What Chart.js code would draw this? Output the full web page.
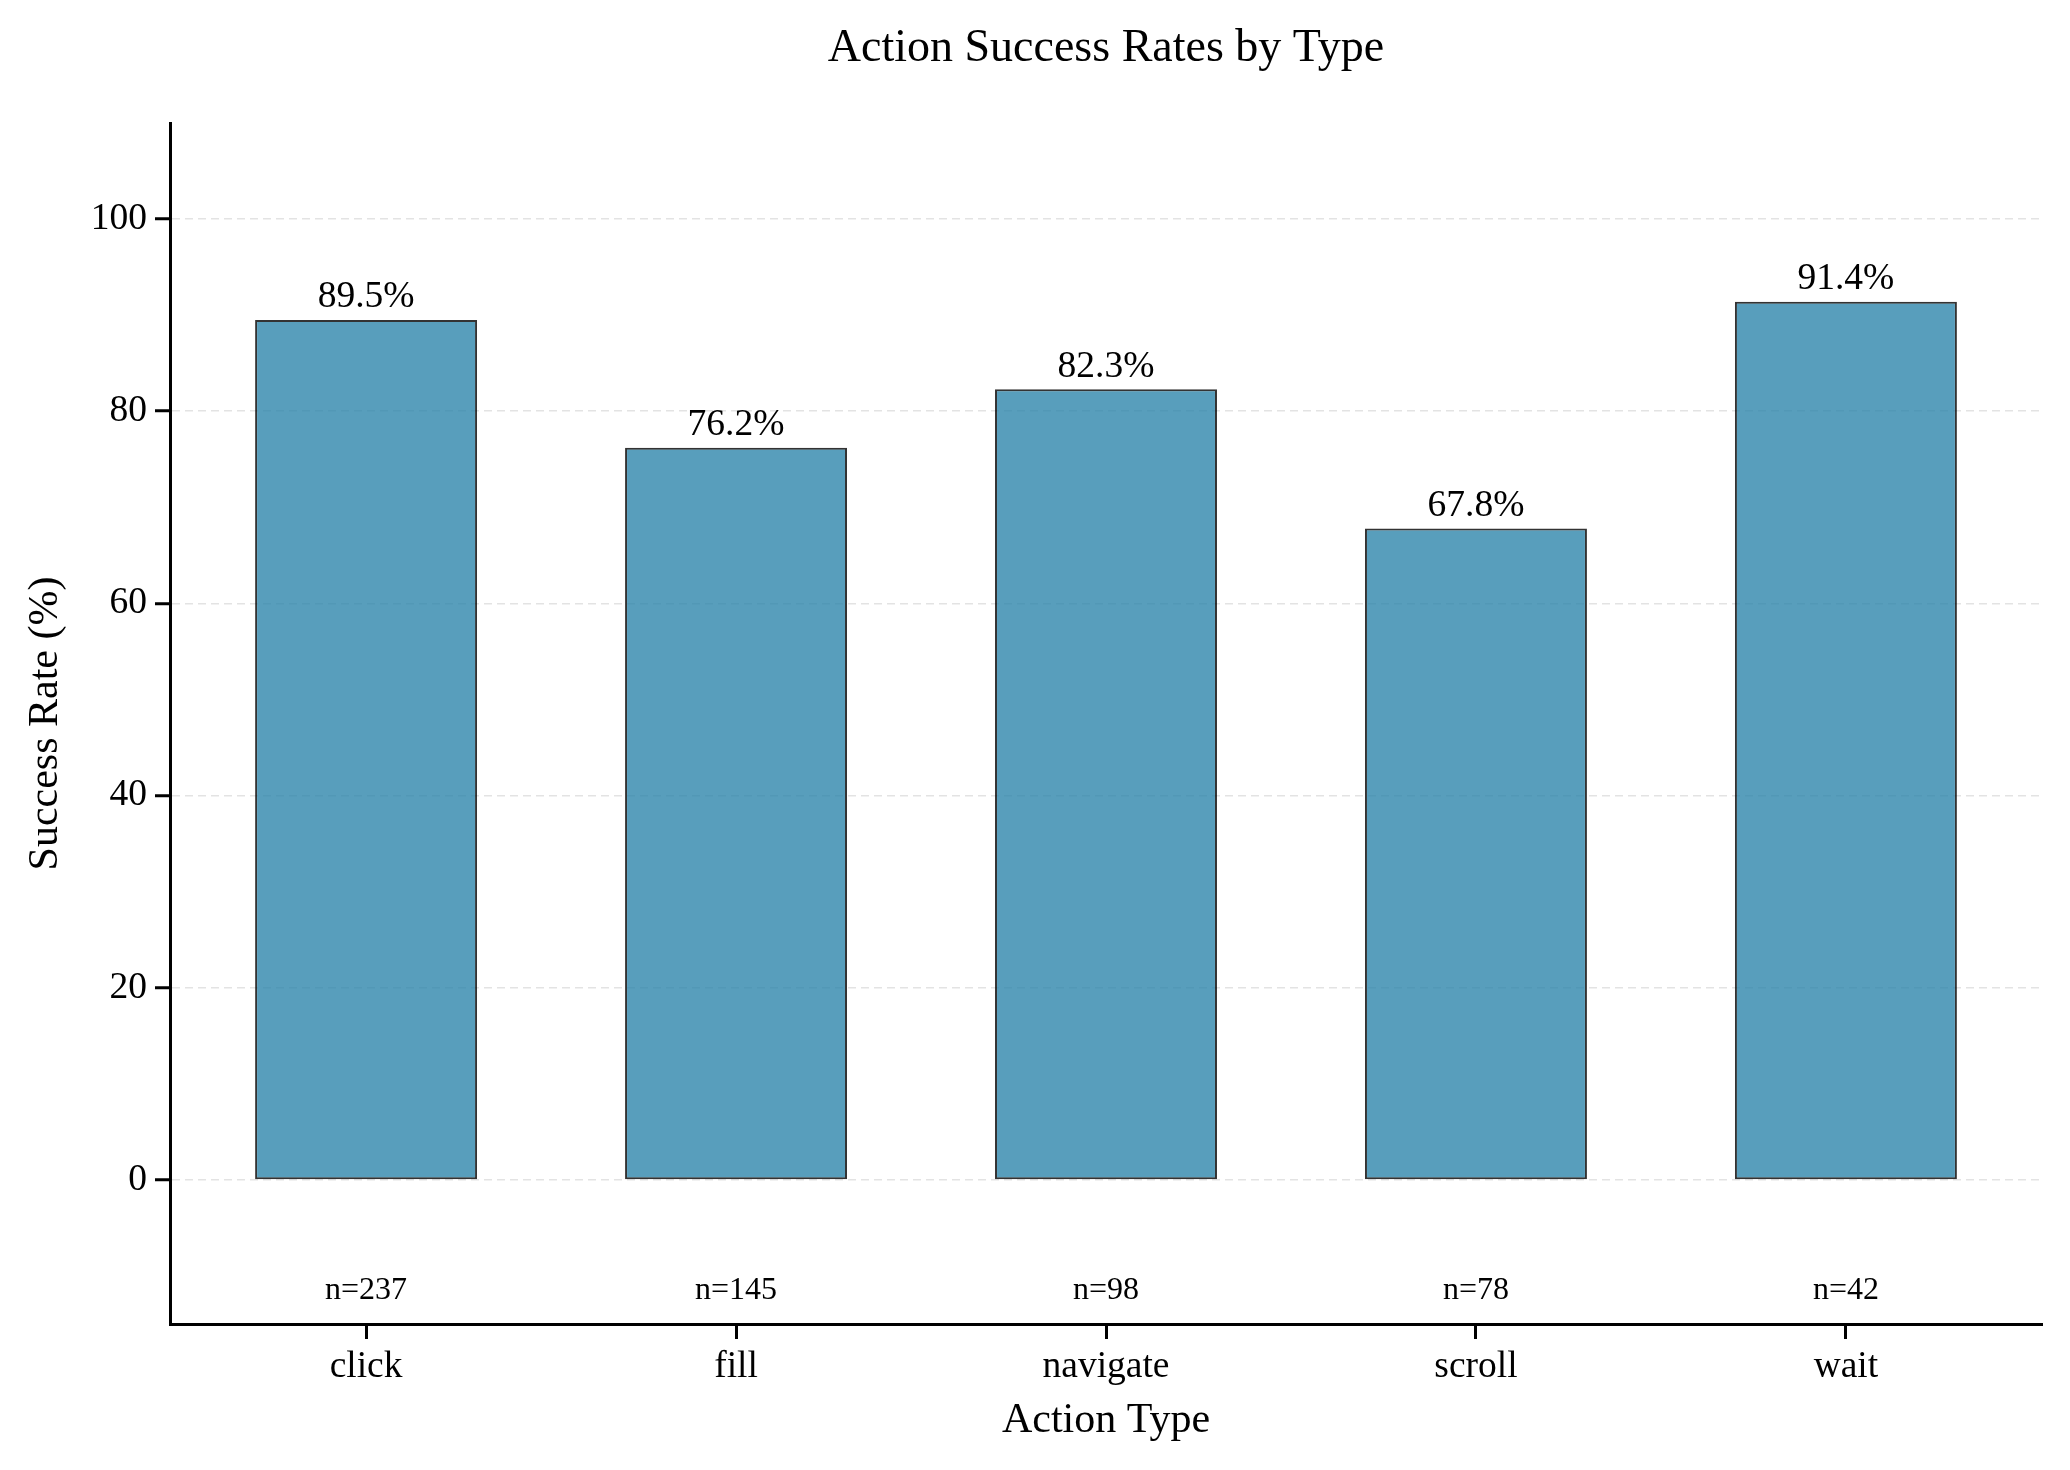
<!DOCTYPE html>
<html>
<head>
<meta charset="utf-8">
<script src="https://cdn.jsdelivr.net/npm/chart.js@4.4.1/dist/chart.umd.min.js"></script>
<style>
  html, body { margin: 0; padding: 0; background: #fff; }
  #wrap { width: 2070px; height: 1470px; }
</style>
</head>
<body>
<div id="wrap"><canvas id="chart" width="2070" height="1470"></canvas></div>
<script>
// data
const categories = ['click', 'fill', 'navigate', 'scroll', 'wait'];
const successRates = [89.5, 76.2, 82.3, 67.8, 91.4];
const sampleCounts = [237, 145, 98, 78, 42];
const yTicks = [0, 20, 40, 60, 80, 100];

const FONT = '"Liberation Serif", "Times New Roman", serif';

// draws title, axis titles, value labels and n= labels
const annotate = {
  id: 'annotate',
  afterDatasetsDraw(chart) {
    const { ctx, chartArea } = chart;
    const xs = chart.scales.x;
    const ys = chart.scales.y;
    ctx.save();
    ctx.fillStyle = '#000';
    ctx.textAlign = 'center';

    ctx.font = '37.5px ' + FONT;
    ctx.textBaseline = 'alphabetic';
    successRates.forEach((v, i) => {
      ctx.fillText(v.toFixed(1) + '%', xs.getPixelForValue(i), ys.getPixelForValue(v + 1) - 3);
    });

    ctx.font = '32px ' + FONT;
    sampleCounts.forEach((n, i) => {
      ctx.fillText('n=' + n, xs.getPixelForValue(i), ys.getPixelForValue(-10) + 23);
    });

    // title
    ctx.font = '46px ' + FONT;
    ctx.textBaseline = 'middle';
    ctx.fillText('Action Success Rates by Type', (chartArea.left + chartArea.right) / 2, 49);

    // axis titles
    ctx.font = '42px ' + FONT;
    ctx.fillText('Action Type', (chartArea.left + chartArea.right) / 2, 1421);
    ctx.translate(46, (chartArea.top + chartArea.bottom) / 2);
    ctx.rotate(-Math.PI / 2);
    ctx.fillText('Success Rate (%)', 0, 0);
    ctx.restore();
  }
};

new Chart(document.getElementById('chart'), {
  type: 'bar',
  data: {
    datasets: [{
      data: successRates.map((v, i) => ({ x: i, y: v })),
      backgroundColor: 'rgba(46, 134, 171, 0.8)',
      borderColor: 'rgba(0, 0, 0, 0.8)',
      borderWidth: 2,
      borderSkipped: false,
      barPercentage: 0.6,
      categoryPercentage: 1.0
    }]
  },
  options: {
    responsive: false,
    animation: false,
    layout: { padding: { left: 0, right: 28, top: 123, bottom: 0 } },
    plugins: {
      legend: { display: false },
      tooltip: { enabled: false },
      title: { display: false }
    },
    scales: {
      x: {
        type: 'linear',
        min: -0.53,
        max: 4.53,
        offset: false,
        afterFit: (s) => { s.height = 146; },
        afterBuildTicks: (s) => { s.ticks = categories.map((c, i) => ({ value: i })); },
        ticks: {
          callback: (v) => categories[v],
          font: { family: FONT, size: 37.5 },
          color: '#000',
          padding: 6,
          maxRotation: 0
        },
        grid: {
          offset: false,
          drawOnChartArea: false,
          drawTicks: true,
          tickLength: 15,
          tickWidth: 3,
          tickColor: '#000'
        },
        border: { display: true, color: '#000', width: 3 }
      },
      y: {
        min: -15,
        max: 110,
        afterFit: (s) => { s.width = 170; },
        afterBuildTicks: (s) => { s.ticks = yTicks.map(v => ({ value: v })); },
        ticks: {
          font: { family: FONT, size: 37.5 },
          color: '#000',
          padding: 8
        },
        grid: {
          color: 'rgba(200, 200, 200, 0.5)',
          lineWidth: 1.5,
          drawTicks: true,
          tickLength: 15,
          tickWidth: 3,
          tickColor: '#000'
        },
        border: { display: true, color: '#000', width: 3, dash: [8, 5] }
      }
    }
  },
  plugins: [annotate]
});
</script>
</body>
</html>
